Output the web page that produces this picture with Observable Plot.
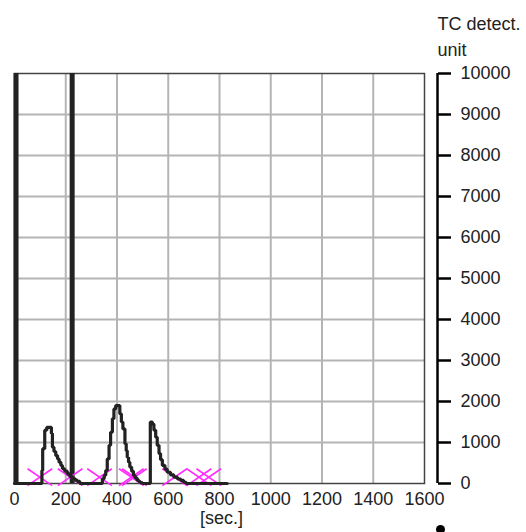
<!DOCTYPE html>
<html>
<head>
<meta charset="utf-8">
<script src="https://cdn.jsdelivr.net/npm/d3@7"></script>
<script src="https://cdn.jsdelivr.net/npm/@observablehq/plot@0.6"></script>
<style>
  html, body { margin: 0; padding: 0; background: #fff; }
  #chart svg { display: block; overflow: visible; }
</style>
</head>
<body>
<div id="chart"></div>
<script>
// ---- data ----
const xTicks = [0, 200, 400, 600, 800, 1000, 1200, 1400, 1600];
const yTicks = [0, 1000, 2000, 3000, 4000, 5000, 6000, 7000, 8000, 9000, 10000];
const gridX = [200, 400, 600, 800, 1000, 1200, 1400];
const gridY = [1000, 2000, 3000, 4000, 5000, 6000, 7000, 8000, 9000];

// detector trace (time in sec, signal in TC detect. unit)
const traceTime = [0, 103, 107, 110, 118, 126, 144, 148, 154, 161, 168, 174, 181, 187, 196, 206, 216, 226, 236, 245, 255,
  343, 350, 356, 362, 369, 375, 382, 388, 395, 411, 417, 423, 431, 436, 440, 445, 450, 457, 464, 471, 479, 486, 492, 500,
  525, 530, 538, 544, 551, 557, 564, 570, 577, 587, 596, 609, 622, 636, 649, 660, 670, 830];
const traceValue = [0, 0, 320, 850, 1300, 1370, 1220, 885, 780, 680, 600, 520, 440, 360, 300, 235, 170, 120, 80, 50, 0,
  115, 200, 320, 600, 930, 1250, 1580, 1820, 1900, 1700, 1500, 1330, 970, 800, 640, 520, 400, 300, 195, 130, 75, 40, 15, 0,
  0, 1500, 1450, 1300, 1130, 930, 730, 580, 440, 350, 275, 210, 155, 110, 75, 30, 0, 0];

// event markers (thick vertical lines), sec
const eventTimes = [6, 225];
// peak start/end markers (magenta crosses), sec
const crossTimes = [99, 217, 332, 456, 468, 625, 720, 758];

const xLabel = "[sec.]";
const yLabelLines = ["TC detect.", "unit"];

// ---- build ----
const trace = traceTime.map((t, i) => ({t, v: traceValue[i]}));
const HW = 48, TOP = 360, BOT = -50;  // cross half-width (sec) and vertical extent (units)
const crossLinks = crossTimes.flatMap(c => [
  {x1: c - HW, y1: TOP, x2: c + HW, y2: BOT},
  {x1: c - HW, y1: BOT, x2: c + HW, y2: TOP}
]);

const font = "'Liberation Sans', Arial, sans-serif";
const ink = "#222";

const chart = Plot.plot({
  width: 526,
  height: 532,
  marginLeft: 14,
  marginRight: 102,
  marginTop: 73,
  marginBottom: 49,
  style: {fontFamily: font, fontSize: "18px", color: ink, background: "#fff", overflow: "visible"},
  x: {domain: [0, 1600]},
  y: {domain: [0, 10000]},
  marks: [
    Plot.ruleX(gridX, {stroke: "#b4b4b4", strokeWidth: 2}),
    Plot.ruleY(gridY, {stroke: "#b4b4b4", strokeWidth: 2}),
    Plot.frame({stroke: "#444", strokeWidth: 1.5}),
    Plot.ruleX(eventTimes, {stroke: ink, strokeWidth: 5}),
    Plot.link(crossLinks, {x1: "x1", y1: "y1", x2: "x2", y2: "y2", stroke: "#ff2bff", strokeWidth: 1.6}),
    Plot.line(trace, {x: "t", y: "v", curve: "step-after", stroke: ink, strokeWidth: 3.2, strokeLinejoin: "miter"}),
    Plot.axisX(xTicks, {anchor: "bottom", tickSize: 0, tickPadding: 9, tickFormat: d => String(d), label: null, fontSize: 18, fill: ink}),
    Plot.axisY(yTicks, {anchor: "right", dx: 13, tickSize: 13, tickPadding: 10, tickFormat: d => String(d), label: null, fontSize: 18, fill: ink, stroke: "#000", strokeWidth: 2.5}),
    Plot.ruleX([1600], {dx: 13, stroke: "#000", strokeWidth: 2.5}),
    Plot.text([xLabel], {frameAnchor: "bottom", dx: 2, dy: 40, fontSize: 18, fill: ink}),
    Plot.text([yLabelLines[0]], {frameAnchor: "top-right", textAnchor: "start", dx: 13, dy: -56, fontSize: 18, fill: ink}),
    Plot.text([yLabelLines[1]], {frameAnchor: "top-right", textAnchor: "start", dx: 13, dy: -30, fontSize: 18, fill: ink}),
    Plot.dot([0], {frameAnchor: "bottom-right", dx: 16, dy: 46, r: 4.5, fill: "#000", stroke: "none"})
  ]
});
document.getElementById("chart").appendChild(chart);
</script>
</body>
</html>
